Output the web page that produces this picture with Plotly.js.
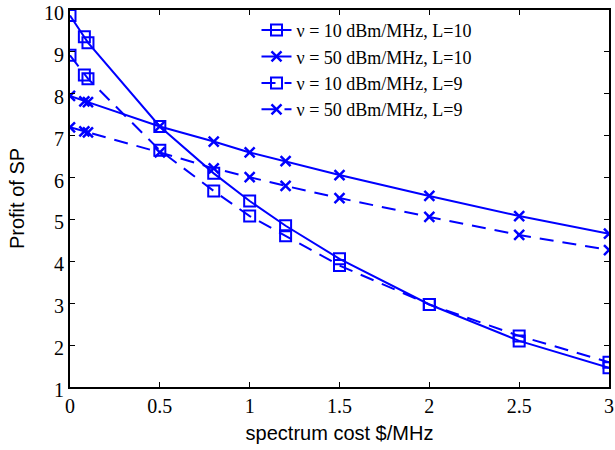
<!DOCTYPE html>
<html>
<head>
<meta charset="utf-8">
<script src="https://cdn.plot.ly/plotly-3.0.1.min.js"></script>
<style>html,body{margin:0;padding:0;background:#fff;}</style>
</head>
<body>
<div id="chart" style="width:615px;height:450px;"></div>
<script>
const cost = [0, 0.08, 0.1, 0.5, 0.8, 1, 1.2, 1.5, 2, 2.5, 3];
const nu10L10 = [9.87, 9.36, 9.22, 7.22, 6.1, 5.44, 4.85, 4.06, 2.97, 2.1, 1.46];
const nu50L10 = [7.95, 7.82, 7.8, 7.22, 6.86, 6.6, 6.39, 6.06, 5.56, 5.08, 4.66];
const nu10L9 = [8.92, 8.45, 8.36, 6.65, 5.68, 5.08, 4.61, 3.9, 2.97, 2.22, 1.59];
const nu50L9 = [7.2, 7.1, 7.08, 6.6, 6.22, 6.01, 5.8, 5.51, 5.06, 4.63, 4.27];
const names = ['ν = 10 dBm/MHz, L=10', 'ν = 50 dBm/MHz, L=10', 'ν = 10 dBm/MHz, L=9', 'ν = 50 dBm/MHz, L=9'];
const xTicks = [0, 0.5, 1, 1.5, 2, 2.5, 3];
const xTickText = ['0', '0.5', '1', '1.5', '2', '2.5', '3'];
const yTicks = [1, 2, 3, 4, 5, 6, 7, 8, 9, 10];

const blue = 'rgb(0,0,255)';
const sq = {symbol: 'square-open', size: 11, color: blue, line: {width: 2, color: blue}};
const cr = {symbol: 'x-thin', size: 10, color: blue, line: {width: 2.5, color: blue}};
const dash = '14px,9px';

const traces = [
  {x: cost, y: nu10L10, name: names[0], mode: 'lines+markers', line: {color: blue, width: 2}, marker: sq},
  {x: cost, y: nu50L10, name: names[1], mode: 'lines+markers', line: {color: blue, width: 2}, marker: cr},
  {x: cost, y: nu10L9, name: names[2], mode: 'lines+markers', line: {color: blue, width: 2, dash: dash}, marker: sq},
  {x: cost, y: nu50L9, name: names[3], mode: 'lines+markers', line: {color: blue, width: 2, dash: dash}, marker: cr}
];

const serif = '"Liberation Serif", "Times New Roman", serif';
const sans = '"Liberation Sans", Arial, sans-serif';
const tickFont = {family: serif, size: 20, color: '#000'};
const titleFont = {family: sans, size: 20, color: '#000'};

const layout = {
  width: 615, height: 450,
  margin: {l: 70, r: 6, t: 10, b: 63},
  paper_bgcolor: '#fff', plot_bgcolor: '#fff',
  showlegend: true,
  legend: {
    x: 0.346, y: 0.995, xanchor: 'left', yanchor: 'top',
    bgcolor: 'rgba(255,255,255,0)', borderwidth: 0,
    font: {family: serif, size: 18, color: '#000'},
    tracegroupgap: 0
  },
  xaxis: {
    range: [0, 3], tickvals: xTicks, ticktext: xTickText,
    ticks: 'inside', ticklen: 5, tickwidth: 1, tickcolor: '#000',
    showline: true, linecolor: '#000', linewidth: 2, mirror: 'ticks',
    showgrid: false, zeroline: false, tickfont: tickFont, ticklabeloverflow: 'allow',
    title: {text: 'spectrum cost $/MHz', font: titleFont, standoff: 10}
  },
  yaxis: {
    range: [1, 10], tickvals: yTicks,
    ticks: 'inside', ticklen: 5, tickwidth: 1, tickcolor: '#000',
    showline: true, linecolor: '#000', linewidth: 2, mirror: 'ticks',
    showgrid: false, zeroline: false, tickfont: tickFont, ticklabeloverflow: 'allow',
    ticklabelshift: 3,
    title: {text: 'Profit of SP', font: titleFont, standoff: 14}
  }
};

Plotly.newPlot('chart', traces, layout, {displayModeBar: false, staticPlot: true});
</script>
</body>
</html>
